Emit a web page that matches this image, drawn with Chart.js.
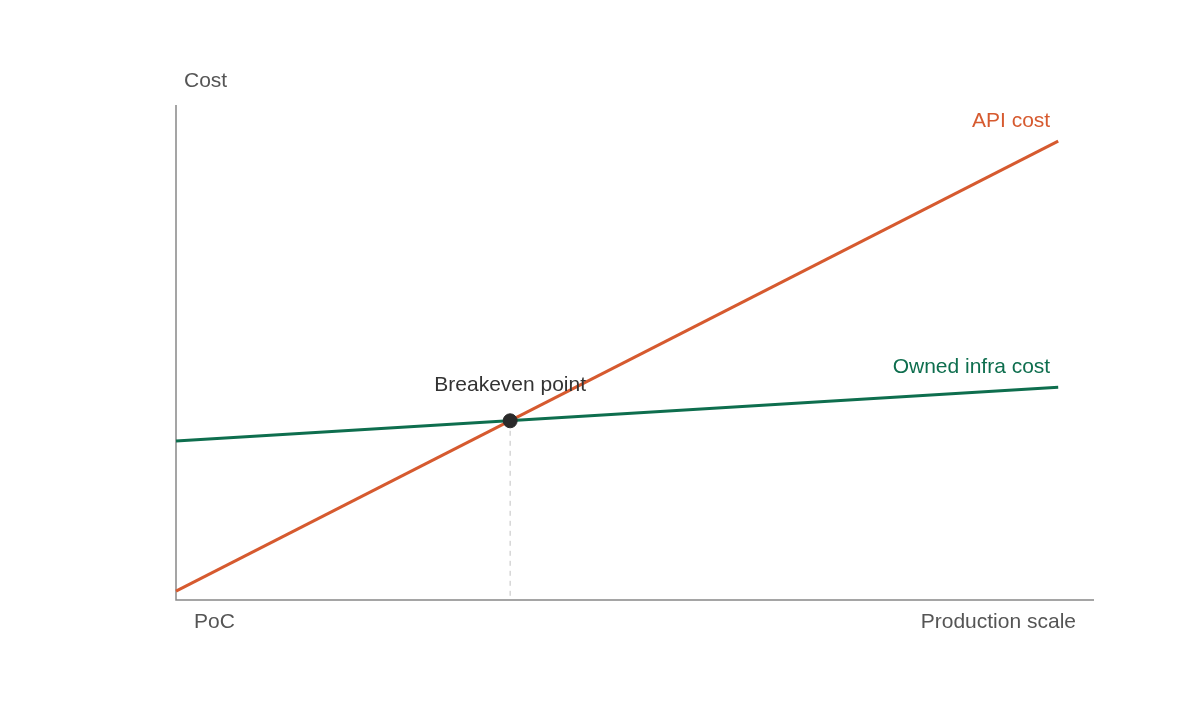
<!DOCTYPE html>
<html>
<head>
<meta charset="utf-8">
<script src="https://cdn.jsdelivr.net/npm/chart.js@4"></script>
<style>
  html, body { margin: 0; padding: 0; background: #fff; }
  #wrap { width: 1200px; height: 706px; }
</style>
</head>
<body>
<div id="wrap"><canvas id="costChart" width="1200" height="706"></canvas></div>
<script>
// production scale (0 = PoC, 100 = full axis)
const scalePoints = [0, 96.1];
const apiCost = [1.8, 92.7];
const ownedCost = [32.1, 43.0];
const breakeven = {x: 36.4, y: 36.2};

const axisMax = {x: 100, y: 100};
const fontFamily = '"Liberation Sans", Arial, sans-serif';
const apiColor = '#d65a2f';
const ownedColor = '#0e6e4e';
const textColor = '#555';

const toPoints = values => values.map((y, i) => ({x: scalePoints[i], y}));

// axis lines, dashed guide and text labels
const annotations = {
    id: 'annotations',
    beforeDatasetsDraw(chart) {
        const {ctx, chartArea: {left, right, top, bottom}, scales: {x, y}} = chart;
        ctx.save();
        ctx.strokeStyle = '#ccc';
        ctx.lineWidth = 1.2;
        ctx.setLineDash([5, 5]);
        ctx.beginPath();
        ctx.moveTo(x.getPixelForValue(breakeven.x), y.getPixelForValue(breakeven.y));
        ctx.lineTo(x.getPixelForValue(breakeven.x), bottom);
        ctx.stroke();

        ctx.setLineDash([]);
        ctx.strokeStyle = '#888';
        ctx.lineWidth = 1.5;
        ctx.beginPath();
        ctx.moveTo(left, top);
        ctx.lineTo(left, bottom);
        ctx.lineTo(right, bottom);
        ctx.stroke();
        ctx.restore();
    },
    afterDatasetsDraw(chart) {
        const {ctx, chartArea: {left, right, top, bottom}, scales: {x, y}} = chart;
        ctx.save();
        ctx.font = '21px ' + fontFamily;
        ctx.textBaseline = 'middle';

        ctx.fillStyle = textColor;
        ctx.textAlign = 'left';
        ctx.fillText('Cost', left + 8, top - 24);
        ctx.fillText('PoC', left + 18, bottom + 22);
        ctx.textAlign = 'right';
        ctx.fillText('Production scale', right - 18, bottom + 22);

        const endX = x.getPixelForValue(scalePoints[1]);
        ctx.fillStyle = apiColor;
        ctx.fillText('API cost', endX - 8, y.getPixelForValue(apiCost[1]) - 20);
        ctx.fillStyle = ownedColor;
        ctx.fillText('Owned infra cost', endX - 8, y.getPixelForValue(ownedCost[1]) - 20);

        ctx.fillStyle = '#333';
        ctx.textAlign = 'center';
        ctx.fillText('Breakeven point', x.getPixelForValue(breakeven.x), y.getPixelForValue(breakeven.y) - 36);
        ctx.restore();
    }
};

new Chart(document.getElementById('costChart'), {
    type: 'line',
    data: {
        datasets: [
            {
                label: 'API cost',
                data: toPoints(apiCost),
                borderColor: apiColor,
                borderWidth: 3,
                pointRadius: 0,
                order: 2,
                clip: false
            },
            {
                label: 'Owned infra cost',
                data: toPoints(ownedCost),
                borderColor: ownedColor,
                borderWidth: 3,
                pointRadius: 0,
                order: 1,
                clip: false
            },
            {
                label: 'Breakeven point',
                data: [breakeven],
                showLine: false,
                pointRadius: 7,
                pointBackgroundColor: '#2a2a2a',
                pointBorderColor: '#2a2a2a',
                order: 0,
                clip: false
            }
        ]
    },
    options: {
        responsive: false,
        animation: false,
        layout: {padding: {left: 176, right: 106, top: 105, bottom: 106}},
        plugins: {legend: {display: false}, tooltip: {enabled: false}},
        scales: {
            x: {type: 'linear', min: 0, max: axisMax.x, display: false},
            y: {type: 'linear', min: 0, max: axisMax.y, display: false}
        }
    },
    plugins: [annotations]
});
</script>
</body>
</html>
